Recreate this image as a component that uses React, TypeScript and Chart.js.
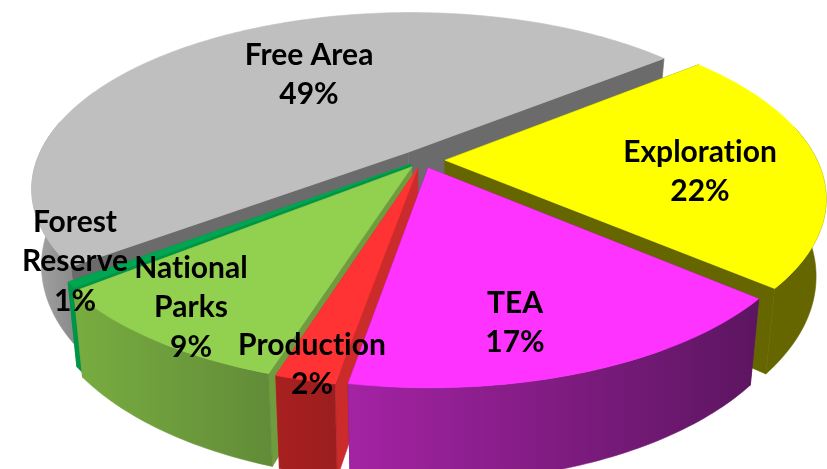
import React, { useEffect, useRef } from "react";
import { Chart, registerables } from "chart.js";

Chart.register(...registerables);

const categories = ["Exploration", "TEA", "Production", "National Parks", "Forest Reserve", "Free Area"];
const shares = [22.1, 16.5, 2.1, 9.4, 0.5, 49.4];
const labelLines = [["Exploration"], ["TEA"], ["Production"], ["National", "Parks"], ["Forest", "Reserve"], ["Free Area"]];
const topColors = ["#ffff00", "#ff33ff", "#ff3333", "#92d050", "#00a650", "#bfbfbf"];
const wallColors = ["#666600", "#661a66", "#cc2b2b", "#6f9c3f", "#009448", "#6b6b6b"];
const rimStops = [
  ["#666600", "#666600"],
  ["#a423a4", "#5c1560"],
  ["#a82020", "#9c1e1e"],
  ["#78ad40", "#628c38"],
  ["#009448", "#009448"],
  ["#a6a6a6", "#8c8c8c"],
];
const sliceOffsets = [23, 18, 18, 18, 14, 22];
const labelCentres = [
  [700, 152],
  [515, 303],
  [312, 345],
  [191, 268],
  [75, 222],
  [309, 55],
];
const paintOrder = [5, 0, 4, 3, 2, 1];

const VIEW = { cx: 422, cy: 160, k: 0.46, p: 0.205, depth: 74, shrink: 0.975 };
const LINE = 39.5;

const pie3d = {
  id: "pie3d",
  beforeDatasetsDraw(chart: any) {
    const ctx = chart.ctx as CanvasRenderingContext2D;
    const arcs = chart.getDatasetMeta(0).data as any[];
    const top = (a: any, ang: number | null) => {
      const R = a.outerRadius;
      const mid = (a.startAngle + a.endAngle) / 2;
      const off = a.options.offset;
      let u = (Math.cos(mid) * off) / R;
      let v = (Math.sin(mid) * off) / R;
      if (ang !== null) {
        u += Math.cos(ang);
        v += Math.sin(ang);
      }
      const w = 1 - VIEW.p * v;
      return { X: VIEW.cx + (R * u) / w, Y: VIEW.cy + (R * VIEW.k * v) / w, w, front: ang !== null && Math.sin(ang) > -0.2 };
    };
    const low = (q: { X: number; Y: number; w: number }) => ({
      X: VIEW.cx + (q.X - VIEW.cx) * VIEW.shrink,
      Y: q.Y + VIEW.depth / q.w,
      w: q.w,
    });
    const poly = (pts: { X: number; Y: number }[], fill: any) => {
      ctx.beginPath();
      pts.forEach((q, i) => (i ? ctx.lineTo(q.X, q.Y) : ctx.moveTo(q.X, q.Y)));
      ctx.closePath();
      ctx.fillStyle = fill;
      ctx.strokeStyle = fill;
      ctx.lineWidth = 0.6;
      ctx.fill();
      ctx.stroke();
    };
    ctx.save();
    paintOrder.forEach((i) => {
      const a = arcs[i];
      const n = Math.max(4, Math.ceil((a.endAngle - a.startAngle) * 60));
      const edge: { X: number; Y: number; w: number; front: boolean }[] = [];
      for (let s = 0; s <= n; s++) {
        edge.push(top(a, a.startAngle + ((a.endAngle - a.startAngle) * s) / n));
      }
      const apex = top(a, null);
      const first = edge[0];
      const last = edge[edge.length - 1];
      poly([apex, last, low(last), low(apex)], wallColors[i]);
      poly([apex, first, low(first), low(apex)], wallColors[i]);
      const rim = edge.filter((q) => q.front);
      if (rim.length > 1) {
        const xs = rim.map((q) => q.X);
        const grad = ctx.createLinearGradient(Math.min(...xs), 0, Math.max(...xs), 0);
        grad.addColorStop(0, rimStops[i][0]);
        grad.addColorStop(1, rimStops[i][1]);
        poly([...rim, ...rim.slice().reverse().map(low)], grad);
      }
      poly([apex, ...edge], a.options.backgroundColor);
    });
    ctx.fillStyle = "#000";
    ctx.font = "700 30px Lato";
    (ctx as any).letterSpacing = "0.01px";
    ctx.textAlign = "center";
    ctx.textBaseline = "middle";
    paintOrder.forEach((i) => {
      const lines = [...labelLines[i], `${Math.round(shares[i])}%`];
      lines.forEach((t, j) => {
        ctx.fillText(t, labelCentres[i][0], labelCentres[i][1] + j * LINE);
      });
    });
    ctx.restore();
    return false;
  },
};

export default function App() {
  const ref = useRef<HTMLCanvasElement>(null);
  useEffect(() => {
    const chart = new Chart(ref.current as HTMLCanvasElement, {
      type: "pie",
      data: {
        labels: categories,
        datasets: [
          {
            data: shares,
            backgroundColor: topColors,
            offset: sliceOffsets,
            borderWidth: 0,
          },
        ],
      },
      options: {
        responsive: false,
        animation: false,
        rotation: 51,
        radius: 372,
        layout: { padding: 0 },
        plugins: { legend: { display: false }, tooltip: { enabled: false } },
      },
      plugins: [pie3d],
    } as any);
    return () => chart.destroy();
  }, []);
  return (
    <canvas
      ref={ref}
      width={827}
      height={469}
      style={{ position: "fixed", left: 0, top: 0, display: "block", filter: "blur(0.4px)" }}
    />
  );
}
